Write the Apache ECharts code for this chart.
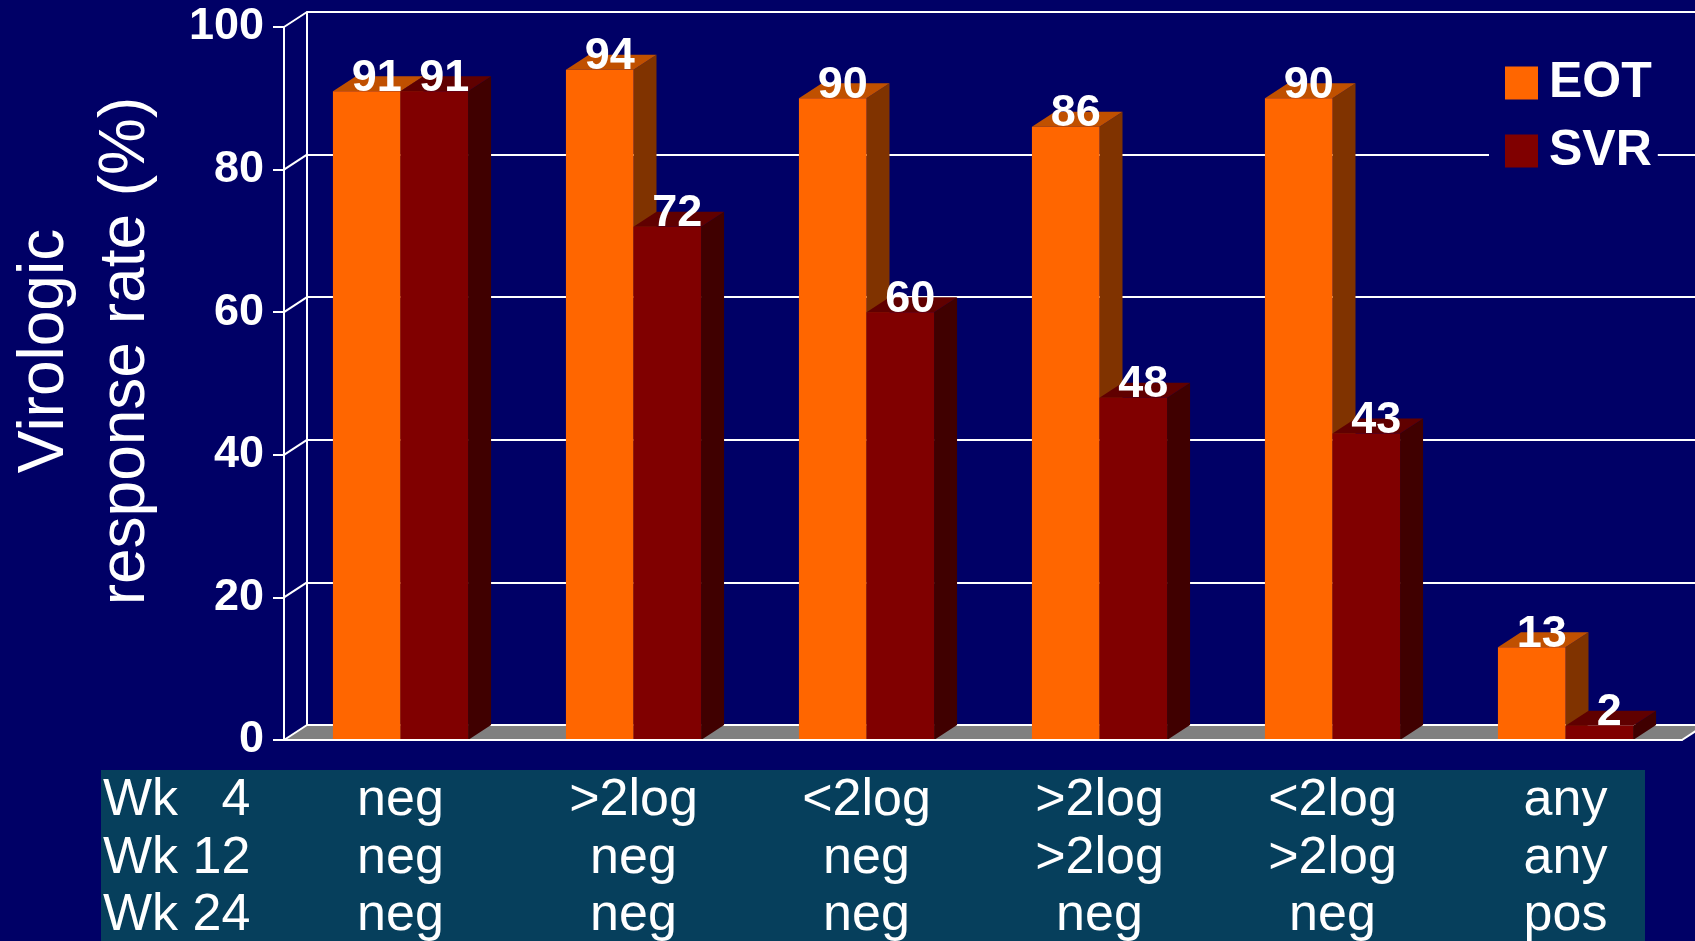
<!DOCTYPE html>
<html>
<head>
<meta charset="utf-8">
<script src="https://cdn.jsdelivr.net/npm/echarts@6/dist/echarts.min.js"></script>
<style>
  html, body { margin: 0; padding: 0; background: #000066; }
  #main { width: 1695px; height: 941px; }
</style>
</head>
<body>
<div id="main"></div>
<script>
// table rows under the bars (one column per category)
const wk4  = ['neg', '>2log', '<2log', '>2log', '<2log', 'any'];
const wk12 = ['neg', 'neg',   'neg',   '>2log', '>2log', 'any'];
const wk24 = ['neg', 'neg',   'neg',   'neg',   'neg',   'pos'];
const rowHeaders = ['Wk   4', 'Wk 12', 'Wk 24'];
const categories = wk4.map((v, i) => v + '\n' + wk12[i] + '\n' + wk24[i]);

const eot = [91, 94, 90, 86, 90, 13];
const svr = [91, 72, 60, 48, 43, 2];
const yTicks = [0, 20, 40, 60, 80, 100];

const FONT = '"Liberation Sans", Arial, sans-serif';
const DX = 23, DY = -15; // depth of the fake 3d

const chart = echarts.init(document.getElementById('main'));

function bar3d(face, topc, sidec, left) {
  return function (params, api) {
    const v = api.value(1);
    const top = api.coord([api.value(0), v]);
    const base = api.coord([api.value(0), 0]);
    const w = api.size([1, 0])[0] * 0.29;
    const x0 = left ? top[0] - w : top[0];
    const x1 = x0 + w;
    const yt = top[1], yb = base[1];
    return {
      type: 'group',
      children: [
        { type: 'polygon', shape: { points: [[x1, yt], [x1 + DX, yt + DY], [x1 + DX, yb + DY], [x1, yb]] }, style: { fill: sidec } },
        { type: 'polygon', shape: { points: [[x0, yt], [x1, yt], [x1 + DX, yt + DY], [x0 + DX, yt + DY]] }, style: { fill: topc } },
        { type: 'rect', shape: { x: x0, y: yt, width: w, height: yb - yt }, style: { fill: face } },
        { type: 'text', x: x0 + w / 2 + 10, y: yt - 13, z2: 10,
          style: { text: String(v), fill: '#fff', font: 'bold 45px ' + FONT, align: 'center', verticalAlign: 'middle' } }
      ]
    };
  };
}

// floor + little diagonal connectors between front axis and back wall
function frame(params, api) {
  const cs = params.coordSys;
  const x0 = cs.x, x1 = cs.x + cs.width, yb = cs.y + cs.height;
  const line = { stroke: '#fff', lineWidth: 2 };
  const kids = [
    { type: 'polygon', shape: { points: [[x0, yb], [x1, yb], [x1 + DX, yb + DY], [x0 + DX, yb + DY]] }, style: { fill: '#808080' } },
    { type: 'line', shape: { x1: x0 + DX, y1: yb + DY, x2: x1 + DX, y2: yb + DY }, style: line },
    { type: 'line', shape: { x1: x1, y1: yb, x2: x1 + DX, y2: yb + DY }, style: line }
  ];
  yTicks.forEach(t => {
    const y = api.coord([0, t])[1];
    kids.push({ type: 'line', shape: { x1: x0, y1: y, x2: x0 + DX, y2: y + DY }, style: line });
  });
  return { type: 'group', children: kids };
}

const option = {
  backgroundColor: '#000066',
  animation: false,
  color: ['#FF6600', '#800000'],
  grid: [
    { left: 284, right: 13, top: 27, bottom: 201, outerBoundsMode: 'none', containLabel: false },
    { left: 284 + DX, right: 13 - DX, top: 27 + DY, bottom: 201 - DY, outerBoundsMode: 'none', containLabel: false }
  ],
  xAxis: [
    {
      type: 'category', gridIndex: 0, data: categories, z: 3,
      axisLine: { lineStyle: { color: '#fff', width: 2 } },
      axisTick: { length: 10, lineStyle: { color: '#fff', width: 2 } },
      axisLabel: { interval: 0, color: '#fff', fontSize: 52, lineHeight: 57.5, fontFamily: FONT, margin: 32 }
    },
    { type: 'category', gridIndex: 1, data: categories, show: false }
  ],
  yAxis: [
    {
      type: 'value', gridIndex: 0, min: 0, max: 100, interval: 20,
      axisLine: { show: true, lineStyle: { color: '#fff', width: 2 } },
      axisTick: { show: true, length: 11, lineStyle: { color: '#fff', width: 2 } },
      axisLabel: { color: '#fff', fontSize: 45, fontWeight: 'bold', fontFamily: FONT, margin: 20 },
      splitLine: { show: false }
    },
    {
      type: 'value', gridIndex: 1, min: 0, max: 100, interval: 20,
      axisLine: { show: true, lineStyle: { color: '#fff', width: 2 } },
      axisTick: { show: false },
      axisLabel: { show: false },
      splitLine: { show: true, lineStyle: { color: '#fff', width: 2 } }
    }
  ],
  legend: {
    data: ['EOT', 'SVR'], orient: 'vertical', left: 1489, top: 50,
    icon: 'rect', itemWidth: 33, itemHeight: 33, itemGap: 18,
    backgroundColor: '#000066', padding: [8, 6, 8, 16],
    textStyle: { color: '#fff', fontSize: 50, fontWeight: 'bold', fontFamily: FONT, lineHeight: 50, padding: [0, 0, 0, 6] }
  },
  graphic: [
    { type: 'rect', z: 0, shape: { x: 101, y: 770, width: 1544, height: 171 }, style: { fill: '#063F5C' } },
    { type: 'text', z: 5, x: 103, y: 772,
      style: { text: rowHeaders.join('\n'), fill: '#fff', font: '52px ' + FONT, lineHeight: 57.5, align: 'left', verticalAlign: 'top' } },
    { type: 'text', z: 5, x: 86, y: 351, rotation: Math.PI / 2,
      style: { text: 'Virologic\nresponse rate (%)', fill: '#fff', font: '64px ' + FONT, lineHeight: 81, align: 'center', verticalAlign: 'middle' } }
  ],
  series: [
    { type: 'custom', name: 'frame', xAxisIndex: 0, yAxisIndex: 0, z: 1, data: [[0, 0]], renderItem: frame, silent: true },
    { type: 'custom', name: 'EOT', xAxisIndex: 0, yAxisIndex: 0, z: 2, itemStyle: { color: '#FF6600' },
      data: eot.map((v, i) => [i, v]), renderItem: bar3d('#FF6600', '#C05000', '#803300', true) },
    { type: 'custom', name: 'SVR', xAxisIndex: 0, yAxisIndex: 0, z: 2, itemStyle: { color: '#800000' },
      data: svr.map((v, i) => [i, v]), renderItem: bar3d('#800000', '#600000', '#400000', false) }
  ]
};

chart.setOption(option);
</script>
</body>
</html>
